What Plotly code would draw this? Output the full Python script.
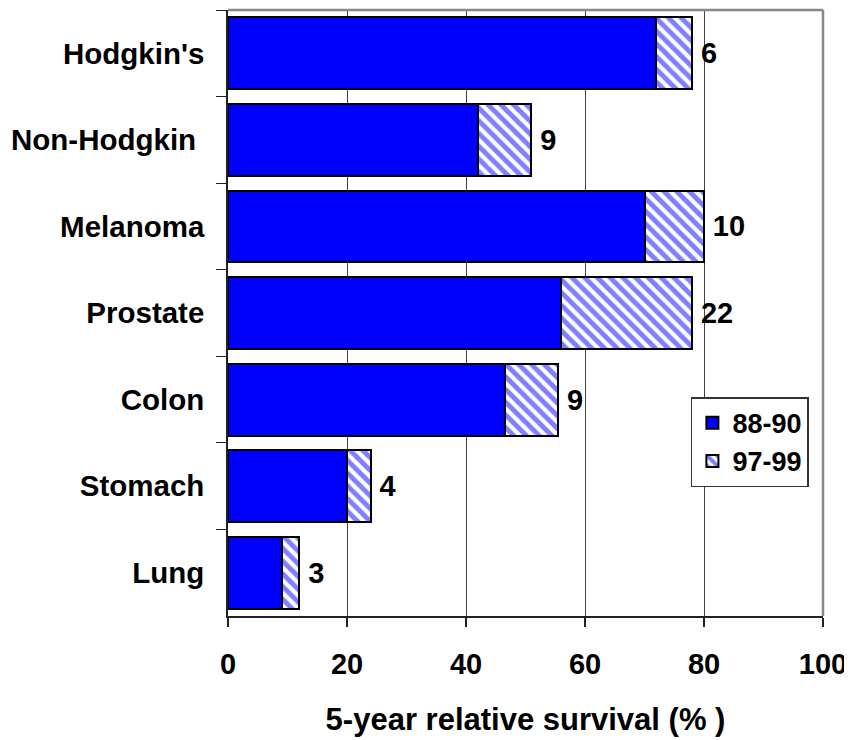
import plotly.graph_objects as go

categories = ["Hodgkin's", "Non-Hodgkin\u00a0", "Melanoma", "Prostate", "Colon", "Stomach", "Lung"]
survival_88_90 = [72, 42, 70, 56, 46.5, 20, 9]
gain_97_99 = [6, 9, 10, 22, 9, 4, 3]
gain_labels = ["6", "9", "10", "22", "9", "4", "3"]
x_ticks = [0, 20, 40, 60, 80, 100]
series_names = ["88-90", "97-99"]
x_title = "5-year relative survival (% )"

FONT = "Liberation Sans, Arial, sans-serif"
BLUE = "#0000ff"

fig = go.Figure()
fig.add_trace(go.Bar(
    y=categories, x=survival_88_90, orientation="h", name=series_names[0],
    legendgroup="a",
    marker=dict(color=BLUE, line=dict(color="black", width=2)),
))
fig.add_trace(go.Bar(
    y=categories, x=gain_97_99, orientation="h", name=series_names[1],
    legendgroup="b",
    marker=dict(color="white", line=dict(color="black", width=2),
                pattern=dict(shape="\\", fgcolor=BLUE, bgcolor="white", size=9, solidity=0.55)),
    text=gain_labels, texttemplate="\u2009%{text}",
    textposition="outside", constraintext="none", cliponaxis=False,
    textfont=dict(family=FONT, size=29, color="black", weight="bold"),
))

# page body has an 8px default margin, so the figure is 8px smaller than the window
fig.update_layout(
    width=844, height=732,
    margin=dict(l=220, r=29, t=2, b=124),
    barmode="stack", bargap=0.17,
    plot_bgcolor="white", paper_bgcolor="white",
    font=dict(family=FONT, size=29, color="black", weight="bold"),
    showlegend=True,
    legend=dict(
        x=0.778, y=0.361, xanchor="left", yanchor="top",
        bordercolor="#333333", borderwidth=1.5, bgcolor="white",
        font=dict(family=FONT, size=27, color="black", weight="bold"),
        traceorder="normal", tracegroupgap=18,
    ),
    xaxis=dict(
        range=[0, 100], tickvals=x_ticks, ticktext=[str(v) for v in x_ticks],
        automargin=False,
        showgrid=True, gridcolor="#444444", gridwidth=1, zeroline=False,
        showline=True, linecolor="#222222", linewidth=2,
        ticks="outside", ticklen=9, tickwidth=1.5, tickcolor="#222222",
        ticklabelstandoff=12,
        tickfont=dict(family=FONT, size=29, color="black", weight="bold"),
        title=dict(text=x_title, standoff=30,
                   font=dict(family=FONT, size=31, color="black", weight="bold")),
    ),
    yaxis=dict(
        categoryorder="array", categoryarray=categories, autorange="reversed",
        automargin=False,
        showgrid=False, zeroline=False,
        showline=True, linecolor="#222222", linewidth=1.5,
        ticks="outside", ticklen=10, tickwidth=1.2, tickcolor="#222222",
        tickson="boundaries", ticklabelstandoff=16,
        tickfont=dict(family=FONT, size=29.5, color="black", weight="bold"),
    ),
    shapes=[
        dict(type="line", xref="paper", yref="paper", x0=0, x1=1, y0=1, y1=1,
             line=dict(color="#888888", width=2.5), layer="above"),
        dict(type="line", xref="paper", yref="paper", x0=1, x1=1, y0=0, y1=1,
             line=dict(color="#888888", width=2.5), layer="above"),
    ],
)

fig.write_html("out.html")
